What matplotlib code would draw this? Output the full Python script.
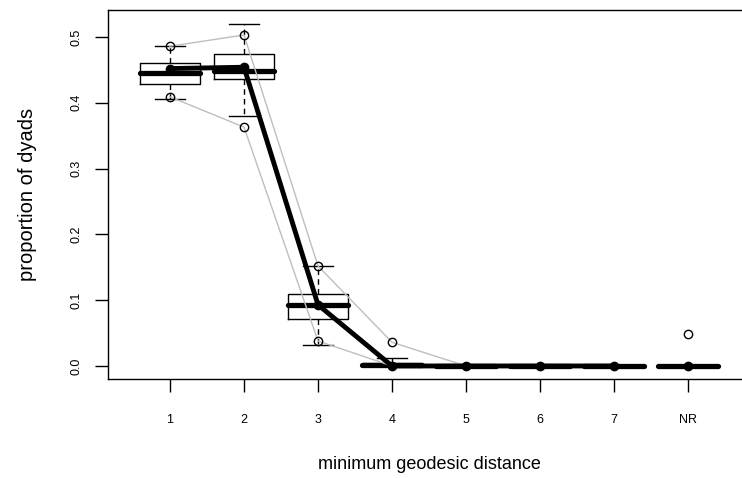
import numpy as np
import matplotlib
matplotlib.use("Agg")
import matplotlib.pyplot as plt

plt.rcParams['font.family'] = ['Liberation Sans', 'DejaVu Sans']

# categories
labels = ['1', '2', '3', '4', '5', '6', '7', 'NR']

# boxplot summaries of the simulated proportions
q1 = [0.429, 0.436, 0.071, 0.0, 0.0, 0.0, 0.0, 0.0]
med = [0.445, 0.448, 0.093, 0.002, 0.0, 0.0, 0.0, 0.0]
q3 = [0.460, 0.474, 0.109, 0.004, 0.0, 0.0, 0.0, 0.0]
wlo = [0.406, 0.380, 0.032, 0.0, 0.0, 0.0, 0.0, 0.0]
whi = [0.486, 0.520, 0.152, 0.012, 0.0, 0.0, 0.0, 0.0]

# observed values
obs = [0.452, 0.454, 0.093, 0.0, 0.0, 0.0, 0.0, 0.0]

# grey bounds (1..7) and circle markers
upper = [0.486, 0.503, 0.152, 0.036, 0.0, 0.0, 0.0]
lower = [0.409, 0.363, 0.038, 0.0, 0.0, 0.0, 0.0]
nr_circle = 0.049

fig = plt.figure(figsize=(7.42, 4.78), dpi=100)
ax = fig.add_axes([108 / 742, 99 / 478, 642 / 742, 369 / 478])

pos = np.arange(1, len(labels) + 1)
stats = []
for i in range(len(labels)):
    stats.append(dict(med=med[i], q1=q1[i], q3=q3[i], whislo=wlo[i], whishi=whi[i], fliers=[]))

ax.bxp(stats, positions=pos, widths=0.8, capwidths=0.4,
       boxprops=dict(color='black', lw=1.0),
       whiskerprops=dict(color='black', lw=1.0, linestyle=(0, (4, 3))),
       capprops=dict(color='black', lw=1.0),
       medianprops=dict(color='black', lw=3.8, solid_capstyle='round'))

# grey envelope lines with circles
ax.plot(pos[:7], upper, color='#bebebe', lw=1.0, zorder=3)
ax.plot(pos[:7], lower, color='#bebebe', lw=1.0, zorder=3)
ax.plot(pos[:4], upper[:4], 'o', ms=6, mfc='none', mec='black', mew=1.0, zorder=4)
ax.plot(pos[:3], lower[:3], 'o', ms=6, mfc='none', mec='black', mew=1.0, zorder=4)
ax.plot([pos[7]], [nr_circle], 'o', ms=6, mfc='none', mec='black', mew=1.0, zorder=4)

# observed line
ax.plot(pos[:7], obs[:7], color='black', lw=3.5, zorder=5)
ax.plot(pos, obs, 'o', color='black', ms=6, zorder=6)

ax.set_xlim(0.162, 8.838)
ax.set_ylim(-0.0198, 0.541)
ax.set_xticks(pos)
ax.set_xticklabels(labels)
ax.set_yticks([0.0, 0.1, 0.2, 0.3, 0.4, 0.5])
ax.set_yticklabels(['0.0', '0.1', '0.2', '0.3', '0.4', '0.5'], rotation=90, va='center')
ax.tick_params(axis='both', length=9.5, width=1.0, labelsize=9)
ax.tick_params(axis='x', pad=16)
ax.tick_params(axis='y', pad=9)
for s in ax.spines.values():
    s.set_linewidth(1.0)

ax.set_xlabel('minimum geodesic distance', fontsize=13, labelpad=21)
ax.set_ylabel('proportion of dyads', fontsize=14.5, labelpad=24)

fig.savefig('out.png', dpi=100)
